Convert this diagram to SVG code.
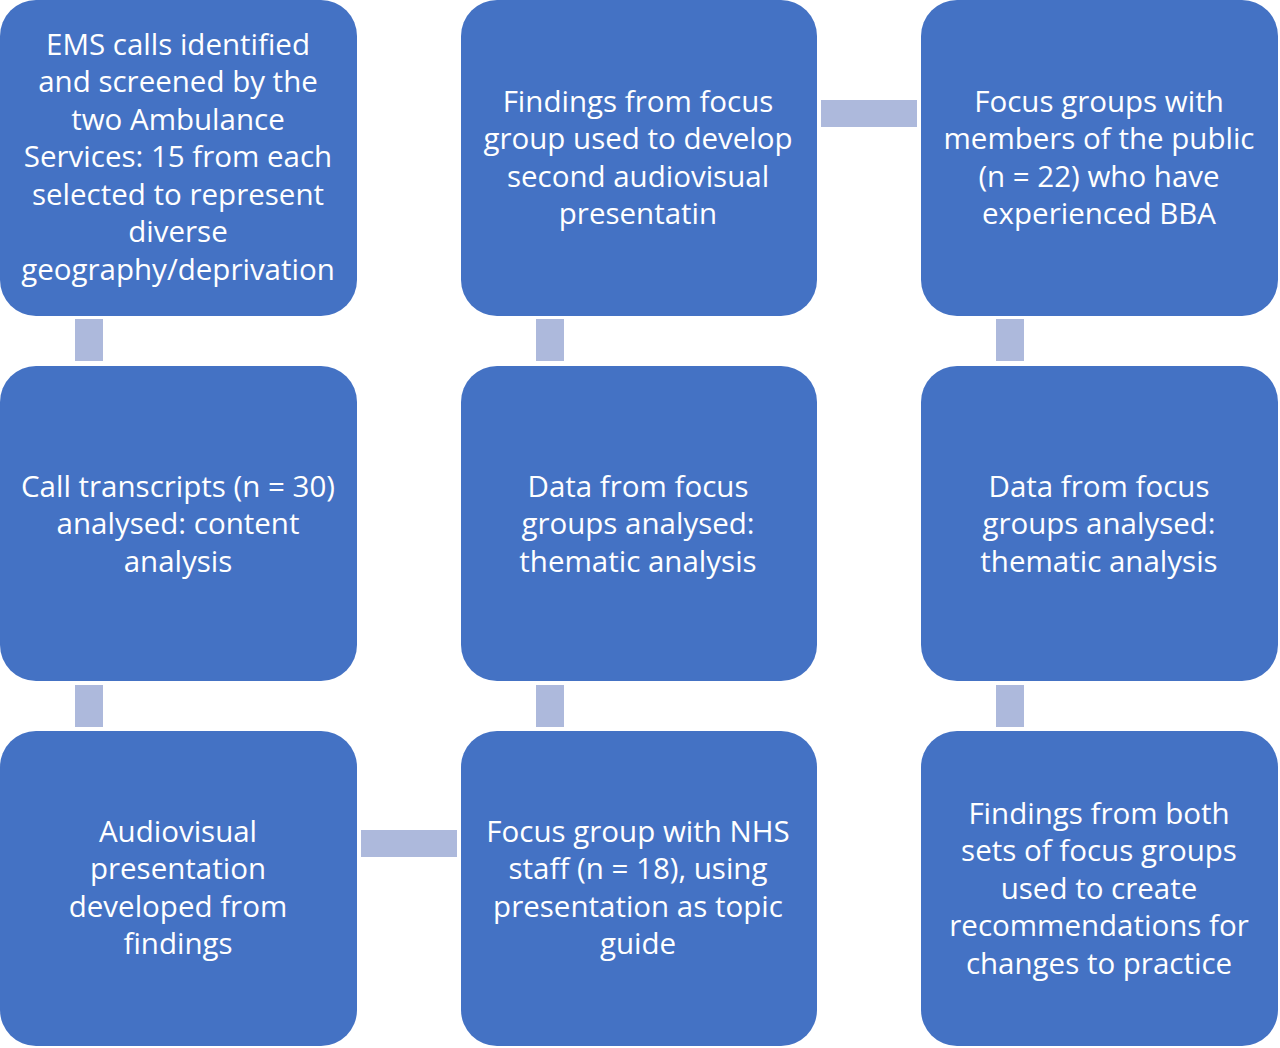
<svg xmlns="http://www.w3.org/2000/svg" width="1280" height="1048" viewBox="0 0 1280 1048">
<style>
.box{fill:#4472C4;}
.con{fill:#ADB9DC;}
.t{font-family:"Open Sans","Noto Sans","Liberation Sans",sans-serif;font-size:29.5px;fill:#FFFFFF;text-anchor:middle;}
</style>
<rect width="1280" height="1048" fill="#FFFFFF"/>
<g id="connectors">
<rect class="con" x="75" y="319" width="28" height="42"/>
<rect class="con" x="75" y="685" width="28" height="42"/>
<rect class="con" x="536" y="319" width="28" height="42"/>
<rect class="con" x="536" y="685" width="28" height="42"/>
<rect class="con" x="996" y="319" width="28" height="42"/>
<rect class="con" x="996" y="685" width="28" height="42"/>
<rect class="con" x="821" y="100" width="96" height="27"/>
<rect class="con" x="361" y="830" width="96" height="27"/>
</g>
<g id="n1">
<rect class="box" x="0" y="0" width="357" height="316" rx="36"/>
<text class="t"><tspan x="178" y="55">EMS calls identified</tspan><tspan x="178" y="92">and screened by the</tspan><tspan x="178" y="130">two Ambulance</tspan><tspan x="178" y="167">Services: 15 from each</tspan><tspan x="178" y="205">selected to represent</tspan><tspan x="178" y="242">diverse</tspan><tspan x="178" y="280">geography/deprivation</tspan></text>
</g>
<g id="n2">
<rect class="box" x="0" y="366" width="357" height="315" rx="36"/>
<text class="t"><tspan x="178" y="497">Call transcripts (n = 30)</tspan><tspan x="178" y="534">analysed: content</tspan><tspan x="178" y="572">analysis</tspan></text>
</g>
<g id="n3">
<rect class="box" x="0" y="731" width="357" height="315" rx="36"/>
<text class="t"><tspan x="178" y="842">Audiovisual</tspan><tspan x="178" y="879">presentation</tspan><tspan x="178" y="917">developed from</tspan><tspan x="178" y="954">findings</tspan></text>
</g>
<g id="n4">
<rect class="box" x="461" y="731" width="356" height="315" rx="36"/>
<text class="t"><tspan x="638" y="842">Focus group with NHS</tspan><tspan x="638" y="879">staff (n = 18), using</tspan><tspan x="638" y="917">presentation as topic</tspan><tspan x="638" y="954">guide</tspan></text>
</g>
<g id="n5">
<rect class="box" x="461" y="366" width="356" height="315" rx="36"/>
<text class="t"><tspan x="638" y="497">Data from focus</tspan><tspan x="638" y="534">groups analysed:</tspan><tspan x="638" y="572">thematic analysis</tspan></text>
</g>
<g id="n6">
<rect class="box" x="461" y="0" width="356" height="316" rx="36"/>
<text class="t"><tspan x="638" y="112">Findings from focus</tspan><tspan x="638" y="149">group used to develop</tspan><tspan x="638" y="187">second audiovisual</tspan><tspan x="638" y="224">presentatin</tspan></text>
</g>
<g id="n7">
<rect class="box" x="921" y="0" width="357" height="316" rx="36"/>
<text class="t"><tspan x="1099" y="112">Focus groups with</tspan><tspan x="1099" y="149">members of the public</tspan><tspan x="1099" y="187">(n = 22) who have</tspan><tspan x="1099" y="224">experienced BBA</tspan></text>
</g>
<g id="n8">
<rect class="box" x="921" y="366" width="357" height="315" rx="36"/>
<text class="t"><tspan x="1099" y="497">Data from focus</tspan><tspan x="1099" y="534">groups analysed:</tspan><tspan x="1099" y="572">thematic analysis</tspan></text>
</g>
<g id="n9">
<rect class="box" x="921" y="731" width="357" height="315" rx="36"/>
<text class="t"><tspan x="1099" y="824">Findings from both</tspan><tspan x="1099" y="861">sets of focus groups</tspan><tspan x="1099" y="899">used to create</tspan><tspan x="1099" y="936">recommendations for</tspan><tspan x="1099" y="974">changes to practice</tspan></text>
</g>
</svg>
